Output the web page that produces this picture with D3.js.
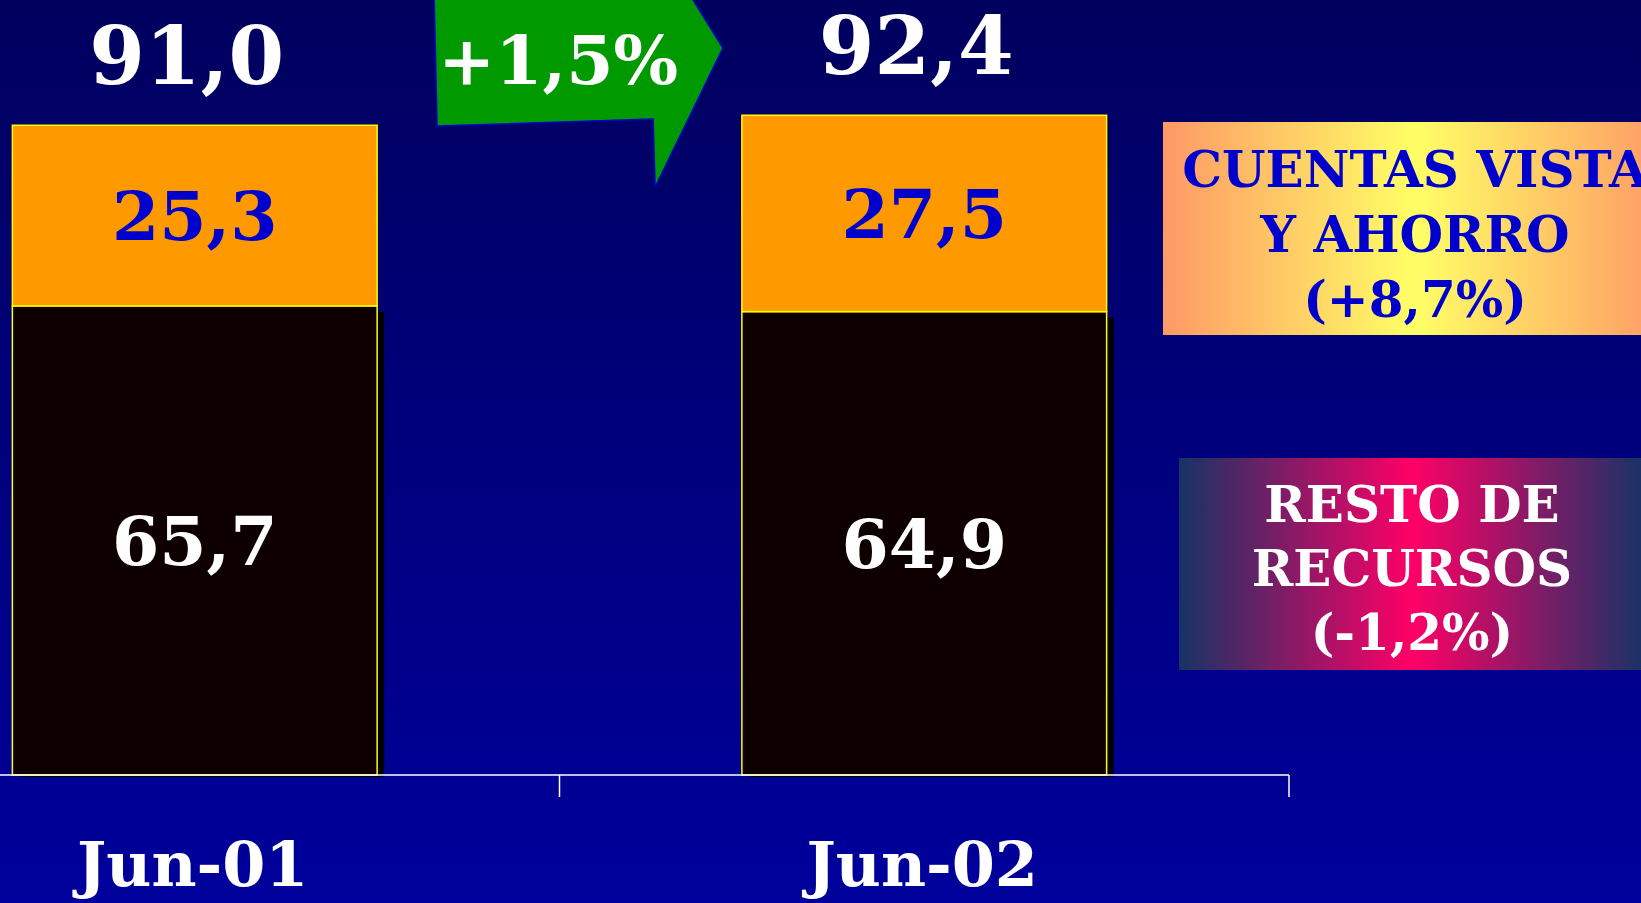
<!DOCTYPE html>
<html>
<head>
<meta charset="utf-8">
<script src="https://cdn.jsdelivr.net/npm/d3@7"></script>
<style>
  html, body { margin: 0; padding: 0; background: #000080; overflow: hidden; }
  svg { display: block; }
  text { font-family: "DejaVu Serif", serif; font-weight: bold; }
</style>
</head>
<body>
<svg id="chart" width="1641" height="903"></svg>
<script>
// ---- data ----
const categories = ["Jun-01", "Jun-02"];
const restoRecursos = [65.7, 64.9];
const cuentasVista = [25.3, 27.5];
const totals = [91.0, 92.4];
const totalLabels = ["91,0", "92,4"];
const restoLabels = ["65,7", "64,9"];
const cuentasLabels = ["25,3", "27,5"];
const growthLabel = "+1,5%";
const legendCuentas = ["CUENTAS VISTA", "Y AHORRO", "(+8,7%)"];
const legendResto = ["RESTO DE", "RECURSOS", "(-1,2%)"];

const W = 1641, H = 903;
const svg = d3.select("#chart");
const defs = svg.append("defs");

// background gradient
const bg = defs.append("linearGradient").attr("id", "bg").attr("x1", 0).attr("y1", 0).attr("x2", 0).attr("y2", 1);
bg.append("stop").attr("offset", "0%").attr("stop-color", "#00005E");
bg.append("stop").attr("offset", "100%").attr("stop-color", "#00009C");
svg.append("rect").attr("width", W).attr("height", H).attr("fill", "url(#bg)");

const g1 = defs.append("linearGradient").attr("id", "legCuentas");
g1.append("stop").attr("offset", "0%").attr("stop-color", "#FF9966");
g1.append("stop").attr("offset", "50%").attr("stop-color", "#FFFF66");
g1.append("stop").attr("offset", "100%").attr("stop-color", "#FF9966");
const g2 = defs.append("linearGradient").attr("id", "legResto");
g2.append("stop").attr("offset", "0%").attr("stop-color", "#163366");
g2.append("stop").attr("offset", "50%").attr("stop-color", "#FF0066");
g2.append("stop").attr("offset", "100%").attr("stop-color", "#163366");

// scales
const x = d3.scaleBand().domain(categories).range([-170, 1289]).paddingInner(0.5).paddingOuter(0.25);
const y = d3.scaleLinear().domain([0, 100]).range([775, 61]);
const bw = x.bandwidth();

const data = categories.map((c, i) => ({
  cat: c, resto: restoRecursos[i], cuentas: cuentasVista[i], total: totals[i],
  tl: totalLabels[i], rl: restoLabels[i], cl: cuentasLabels[i]
}));

// shadows of the black segments
svg.append("g").selectAll("rect").data(data).join("rect")
  .attr("x", d => x(d.cat) + 7)
  .attr("y", d => y(d.resto) + 6)
  .attr("width", bw)
  .attr("height", d => y(0) + 2 - (y(d.resto) + 6))
  .attr("fill", "#000000");

// black segment
svg.append("g").selectAll("rect").data(data).join("rect")
  .attr("x", d => x(d.cat))
  .attr("y", d => y(d.resto))
  .attr("width", bw)
  .attr("height", d => y(0) - y(d.resto))
  .attr("fill", "#0E0000")
  .attr("stroke", "#FFFF00").attr("stroke-width", 1.5);

// orange segment
svg.append("g").selectAll("rect").data(data).join("rect")
  .attr("x", d => x(d.cat))
  .attr("y", d => y(d.resto + d.cuentas))
  .attr("width", bw)
  .attr("height", d => y(d.resto) - y(d.resto + d.cuentas))
  .attr("fill", "#FF9900")
  .attr("stroke", "#FFFF00").attr("stroke-width", 1.5);

// axis line and ticks at band boundaries
const axisY = y(0);
const r0 = x.range()[0], step = x.step();
svg.append("line").attr("x1", 0).attr("x2", r0 + step * categories.length)
  .attr("y1", axisY).attr("y2", axisY).attr("stroke", "#FFFFFF").attr("stroke-width", 1.5);
svg.append("g").selectAll("line").data(d3.range(1, categories.length + 1)).join("line")
  .attr("x1", i => r0 + i * step).attr("x2", i => r0 + i * step)
  .attr("y1", axisY).attr("y2", axisY + 22)
  .attr("stroke", "#FFFFFF").attr("stroke-width", 1.5);

// category labels
svg.append("g").selectAll("text").data(data).join("text")
  .attr("x", d => x(d.cat) + bw / 2 - 2)
  .attr("y", 886)
  .attr("text-anchor", "middle")
  .attr("font-size", 62)
  .attr("fill", "#FFFFFF")
  .text(d => d.cat);

// segment labels
svg.append("g").selectAll("text").data(data).join("text")
  .attr("x", d => x(d.cat) + bw / 2)
  .attr("y", d => (y(d.resto) + y(0)) / 2)
  .attr("dy", "0.36em")
  .attr("text-anchor", "middle")
  .attr("font-size", 68)
  .attr("fill", "#FFFFFF")
  .text(d => d.rl);
svg.append("g").selectAll("text").data(data).join("text")
  .attr("x", d => x(d.cat) + bw / 2)
  .attr("y", d => (y(d.resto) + y(d.resto + d.cuentas)) / 2)
  .attr("dy", "0.36em")
  .attr("text-anchor", "middle")
  .attr("font-size", 68)
  .attr("fill", "#0000CC")
  .text(d => d.cl);

// totals
svg.append("g").selectAll("text").data(data).join("text")
  .attr("x", d => x(d.cat) + bw / 2 - 8)
  .attr("y", d => y(d.total) - 41)
  .attr("text-anchor", "middle")
  .attr("font-size", 80)
  .attr("fill", "#FFFFFF")
  .text(d => d.tl);

// growth arrow between bars
const a0 = x(categories[0]) + bw + 57;
const a1 = x(categories[1]) - 19;
const arrowPts = [
  [a0, -2], [a0 + 3, 126], [a0 + 219, 119], [a0 + 221, 187],
  [a1, 48], [a1 - 31, -2]
];
svg.append("path")
  .attr("d", d3.line()(arrowPts) + "Z")
  .attr("fill", "#009900")
  .attr("stroke", "#0000CC").attr("stroke-width", 1.5);
svg.append("text")
  .attr("x", a0 + 124).attr("y", 84)
  .attr("text-anchor", "middle")
  .attr("font-size", 68)
  .attr("fill", "#FFFFFF")
  .text(growthLabel);

// legend boxes
function legend(bx, by, bwid, bh, fillId, lines, color, baselines) {
  svg.append("rect").attr("x", bx).attr("y", by).attr("width", bwid).attr("height", bh)
    .attr("fill", `url(#${fillId})`);
  svg.append("g").selectAll("text").data(lines).join("text")
    .attr("x", bx + bwid / 2)
    .attr("y", (d, i) => baselines[i])
    .attr("text-anchor", "middle")
    .attr("font-size", 50)
    .attr("fill", color)
    .text(d => d);
}
legend(1163, 122, 504, 213, "legCuentas", legendCuentas, "#0000CC", [187, 252, 317]);
legend(1179, 458, 466, 212, "legResto", legendResto, "#FFFFFF", [522, 586, 650]);
</script>
</body>
</html>
